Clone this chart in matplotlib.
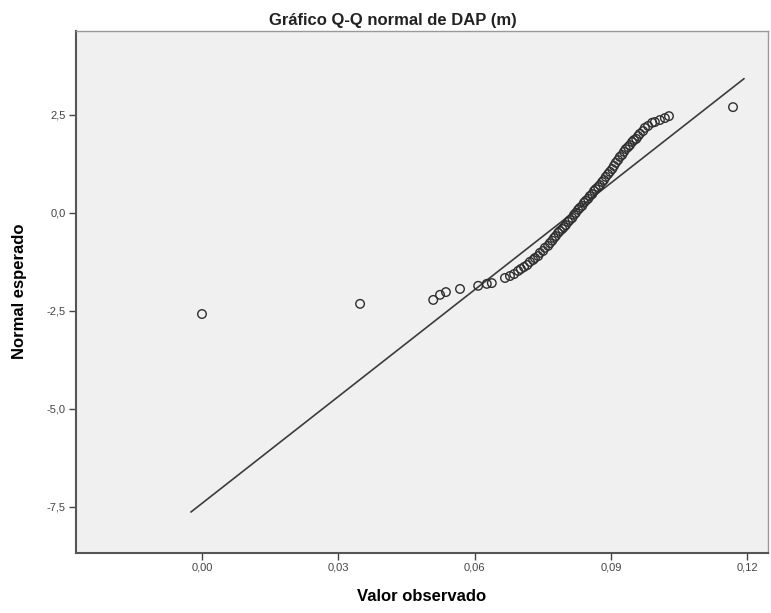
import numpy as np
import matplotlib
matplotlib.use('Agg')
from matplotlib import pyplot as plt
from matplotlib.ticker import FuncFormatter

plt.rcParams['font.family'] = ['Liberation Sans', 'DejaVu Sans']

dap_obs = [0.000, 0.0348, 0.0509, 0.0524, 0.0537, 0.0568, 0.0608, 0.0627, 0.0638,
           0.0667, 0.0678, 0.0687, 0.0696, 0.0702, 0.0709, 0.0716, 0.0722, 0.0729,
           0.0733, 0.0740, 0.0744, 0.0751, 0.0755, 0.0762, 0.0766, 0.0771, 0.0775,
           0.0779, 0.0784, 0.0788, 0.0793, 0.0797, 0.0801, 0.0806, 0.0810, 0.0815,
           0.0819, 0.0823, 0.0828, 0.0832, 0.0837, 0.0841, 0.0845, 0.0850, 0.0854,
           0.0859, 0.0863, 0.0867, 0.0872, 0.0876, 0.0881, 0.0885, 0.0889, 0.0894,
           0.0898, 0.0903, 0.0907, 0.0911, 0.0916, 0.0920, 0.0925, 0.0929, 0.0933,
           0.0938, 0.0942, 0.0947, 0.0951, 0.0956, 0.0960, 0.0964, 0.0971, 0.0975,
           0.0982, 0.0991, 0.0997, 0.1008, 0.1019, 0.1028, 0.1169]
normal_esp = [-2.58, -2.32, -2.22, -2.09, -2.02, -1.94, -1.86, -1.81, -1.79,
              -1.66, -1.61, -1.56, -1.48, -1.43, -1.38, -1.33, -1.25, -1.20,
              -1.15, -1.10, -1.02, -0.97, -0.89, -0.84, -0.77, -0.71, -0.64,
              -0.59, -0.51, -0.46, -0.41, -0.36, -0.31, -0.23, -0.18, -0.13,
              -0.05, 0.00, 0.08, 0.13, 0.18, 0.26, 0.31, 0.36, 0.43,
              0.48, 0.56, 0.61, 0.66, 0.71, 0.79, 0.84, 0.92, 0.99,
              1.05, 1.12, 1.20, 1.28, 1.35, 1.43, 1.48, 1.56, 1.63,
              1.68, 1.73, 1.81, 1.86, 1.89, 1.96, 2.02, 2.09, 2.17,
              2.22, 2.30, 2.32, 2.37, 2.42, 2.47, 2.70]

# reference line (normal with estimated mean / sd)
media = 0.0816
desvio = 0.01101
line_x = [-0.0024, 0.1193]

xticks = [0.00, 0.03, 0.06, 0.09, 0.12]
yticks = [-7.5, -5.0, -2.5, 0.0, 2.5]

fig = plt.figure(figsize=(7.71, 6.13), dpi=100)
ax = fig.add_axes([0.0982, 0.0984, 0.8979, 0.8515])
ax.set_facecolor('#f0f0f0')

lx = np.array(line_x)
ax.plot(lx, (lx - media) / desvio, color='#3c3c3c', lw=1.2, zorder=2)
ax.scatter(dap_obs, normal_esp, s=38, facecolors='none', edgecolors='#2e2e2e',
           linewidths=1.0, zorder=3)

ax.set_xlim(-0.0278, 0.1246)
ax.set_ylim(-8.67, 4.65)
ax.set_xticks(xticks)
ax.set_yticks(yticks)
ax.xaxis.set_major_formatter(FuncFormatter(lambda v, p: ('%.2f' % v).replace('.', ',')))
ax.yaxis.set_major_formatter(FuncFormatter(lambda v, p: ('%.1f' % v).replace('.', ',')))
ax.tick_params(direction='out', length=5, width=1, color='#444444',
               labelsize=8, labelcolor='#444444', pad=2)

for s in ['left', 'bottom']:
    ax.spines[s].set_color('#555555')
    ax.spines[s].set_linewidth(1.5)
for s in ['top', 'right']:
    ax.spines[s].set_color('#999999')
    ax.spines[s].set_linewidth(1.0)

ax.set_xlabel('Valor observado', fontsize=12, fontweight='bold', labelpad=12)
ax.set_ylabel('Normal esperado', fontsize=12, fontweight='bold', labelpad=14)
fig.text(393 / 771, 1 - 20 / 613, 'Gráfico Q-Q normal de DAP (m)', fontsize=12,
         fontweight='bold', ha='center', va='center', color='#222222')

plt.savefig('out.png', dpi=100)
plt.close()
